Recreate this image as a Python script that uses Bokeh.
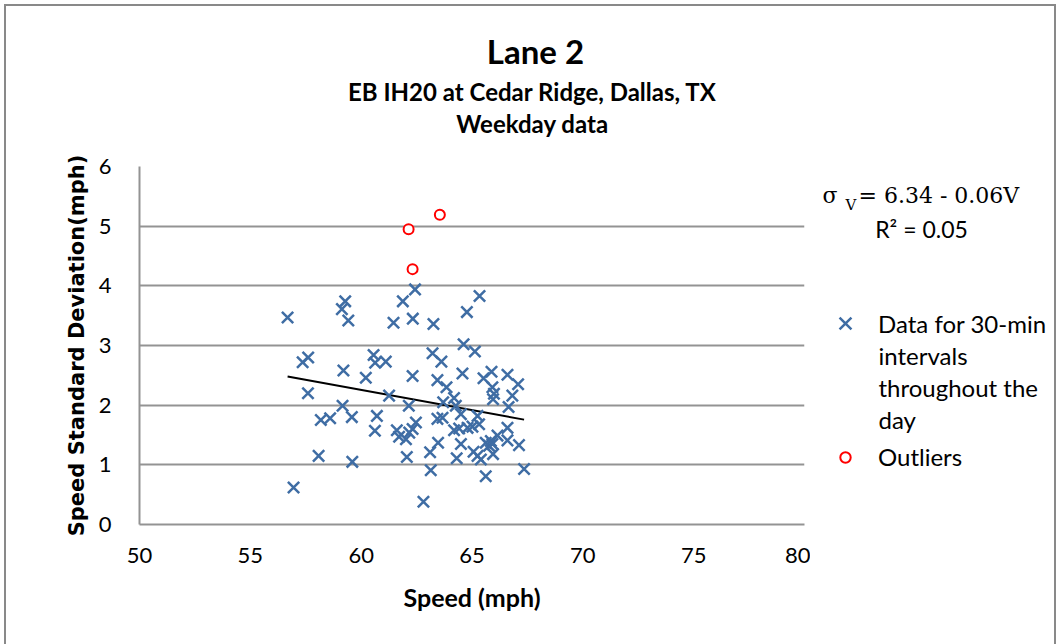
import numpy as np
from bokeh.plotting import figure
from bokeh.layouts import column, row
from bokeh.models import Range1d, FixedTicker, Label, Legend, LegendItem
from bokeh.embed import file_html
from bokeh.resources import INLINE

# 30-minute weekday intervals: mean speed (mph) and speed standard deviation (mph)
speed = [56.68, 56.95, 57.36, 57.61, 57.60, 58.08, 58.18, 58.60, 59.13, 59.28,
         59.42, 59.20, 59.16, 59.58, 59.60, 60.21, 60.56, 60.63, 60.71, 60.62,
         61.11, 61.26, 61.46, 61.61, 61.71, 61.88, 62.02, 62.06, 62.15, 62.17,
         62.32, 62.47, 62.33, 62.43, 62.32, 62.81, 63.11, 63.14, 63.26, 63.22,
         63.62, 63.44, 63.85, 63.70, 64.19, 64.27, 63.44, 63.67, 63.47, 64.19,
         64.42, 64.50, 64.50, 64.31, 64.57, 64.62, 64.77, 64.80, 65.13, 65.34,
         65.52, 65.25, 65.32, 65.02, 65.07, 65.25, 65.40, 65.62, 65.62, 65.77,
         65.85, 65.92, 65.95, 66.15, 65.88, 65.92, 65.99, 66.60, 66.60, 66.60,
         66.82, 67.08, 67.12, 67.35, 66.65, 65.95]
speed_sd = [3.47, 0.62, 2.72, 2.80, 2.20, 1.15, 1.75, 1.78, 3.61, 3.74,
            3.42, 2.58, 1.99, 1.80, 1.05, 2.46, 2.84, 2.71, 1.82, 1.57,
            2.73, 2.16, 3.38, 1.58, 1.47, 3.74, 1.43, 1.13, 1.99, 1.54,
            1.60, 1.71, 3.45, 3.94, 2.49, 0.38, 1.21, 0.91, 3.36, 2.87,
            2.73, 2.42, 2.30, 2.05, 2.12, 1.99, 1.77, 1.79, 1.37, 1.58,
            1.61, 1.85, 1.35, 1.11, 2.53, 3.02, 3.56, 1.62, 2.90, 3.83,
            2.45, 1.82, 1.68, 1.64, 1.22, 1.15, 1.09, 0.81, 1.37, 1.32,
            1.40, 1.35, 1.18, 1.49, 2.56, 2.30, 2.19, 2.51, 1.62, 1.41,
            2.16, 2.35, 1.33, 0.93, 1.97, 2.10]

# Intervals flagged as outliers (left out of the trend line)
outlier_speed = [63.55, 62.14, 62.32]
outlier_sd = [5.19, 4.95, 4.28]

x_ticks = [50, 55, 60, 65, 70, 75, 80]
y_ticks = [0, 1, 2, 3, 4, 5, 6]

title_text = "Lane 2"
subtitle_lines = ["EB IH20 at Cedar Ridge, Dallas, TX", "Weekday data"]
equation_text = "= 6.34 - 0.06V"
r2_text = "R\u00b2 = 0.05"
data_label_lines = ["Data for 30-min", "intervals", "throughout the", "day"]
outlier_label = "Outliers"

# ---- page geometry (pixels) ----
W, H = 1060, 644
HEAD_H = 140                  # band holding the titles
PLOT_W = 810                  # width of the chart panel
FL, FR, FT, FB = 139, 804, 166, 524   # plot frame edges on the page
KEY_X, KEY_TEXT_X = 845, 878          # legend glyph centre / legend text start
LINE_H = 32                           # legend text line spacing

SANS = "Lato"
INK = "black"
GRID = "#939393"
BLUE = "#3f6da4"
RED = "#ff0000"
EDGE = "#898989"


def blank(width, height, x0, x1, y0, y1, top=0, bottom=0):
    """A figure without axes whose data units are page pixels."""
    f = figure(width=width, height=height, x_range=Range1d(x0, x1), y_range=Range1d(y0, y1),
               x_axis_type=None, y_axis_type=None, output_backend="svg",
               toolbar_location=None, min_border=0,
               min_border_top=top, min_border_bottom=bottom)
    f.grid.visible = False
    f.outline_line_color = None
    f.background_fill_alpha = 0
    f.border_fill_alpha = 0
    return f


def text(fig, x, y, s, size, font=SANS, bold=False, align="center"):
    fig.add_layout(Label(x=x, y=y, text=s, text_font=font, text_font_size=size,
                         text_font_style="bold" if bold else "normal",
                         text_color=INK, text_align=align, text_baseline="middle"))


# ---- titles ----
head = blank(W, HEAD_H, 0, W, HEAD_H, 0)
text(head, 535, 50, title_text, "33px", bold=True)
for py, line in zip((91, 123), subtitle_lines):
    text(head, 532, py, line, "24px", bold=True)

# ---- scatter chart ----
p = figure(width=PLOT_W, height=H - HEAD_H, x_range=Range1d(50, 80), y_range=Range1d(0, 6),
           output_backend="svg", toolbar_location=None,
           min_border_left=FL, min_border_right=PLOT_W - FR,
           min_border_top=FT - HEAD_H, min_border_bottom=H - FB)
p.outline_line_color = None
p.background_fill_color = "white"
p.border_fill_alpha = 0

p.xgrid.visible = False
p.ygrid.ticker = FixedTicker(ticks=y_ticks)
p.ygrid.grid_line_color = GRID
p.ygrid.grid_line_width = 2

for ax in (p.xaxis[0], p.yaxis[0]):
    ax.axis_line_color = GRID
    ax.axis_line_width = 2
    ax.major_tick_line_color = None
    ax.minor_tick_line_color = None
    ax.major_label_text_font = SANS
    ax.major_label_text_font_size = "22px"
    ax.major_label_text_color = INK
    ax.axis_label_text_font_style = "bold"
    ax.axis_label_text_color = INK

p.xaxis.ticker = FixedTicker(ticks=x_ticks)
p.yaxis.ticker = FixedTicker(ticks=y_ticks)
p.xaxis.major_label_standoff = 17
p.yaxis.major_label_standoff = 22

p.xaxis.axis_label = "Speed (mph)"
p.xaxis.axis_label_text_font = SANS
p.xaxis.axis_label_text_font_size = "25px"
p.xaxis.axis_label_standoff = 16

p.yaxis.axis_label = "Speed Standard Deviation(mph)"
p.yaxis.axis_label_text_font = "DejaVu Sans"
p.yaxis.axis_label_text_font_size = "21px"
p.yaxis.axis_label_standoff = 7

# trend line fitted to the regular intervals
b1, b0 = np.polyfit(speed, speed_sd, 1)
tx = np.array([min(speed), max(speed)])
p.line(tx, b0 + b1 * tx, line_color="black", line_width=2)

MARK = dict(marker="x", size=16, line_color=BLUE, line_width=2.5)
RING = dict(marker="circle", size=10, fill_color="white", line_color=RED, line_width=2)
p.scatter(speed, speed_sd, **MARK)
p.scatter(outlier_speed, outlier_sd, **RING)

# ---- right-hand side: regression note and legend ----
# frame shares the chart's vertical extent (rows align frames); data units = page pixels
side = blank(W - PLOT_W, H - HEAD_H, PLOT_W, W, FB, FT, top=FT - HEAD_H, bottom=H - FB)
text(side, 822, 195, "\u03c3", "22px", font="DejaVu Serif", align="left")
text(side, 845, 204, "V", "15px", font="DejaVu Serif", align="left")
text(side, 858, 195, equation_text, "22px", font="DejaVu Serif", align="left")
text(side, 921, 228, r2_text, "23px")

# legend keys share the chart's styles; they hold no visible points
key_data = side.scatter([np.nan], [np.nan], **MARK)
key_out = side.scatter([np.nan], [np.nan], **RING)


def make_legend(label, renderer, center_y, glyph):
    # legend markers are drawn at 0.4 x the glyph box, so the box sets the key size
    lg = Legend(items=[LegendItem(label=label, renderers=[renderer])],
                location=(KEY_X - glyph / 2 - PLOT_W, FB - (center_y + glyph / 2)))
    lg.border_line_color = None
    lg.background_fill_alpha = 0
    lg.padding = 0
    lg.margin = 0
    lg.spacing = 0
    lg.glyph_width = glyph
    lg.glyph_height = glyph
    lg.label_standoff = int(round(KEY_TEXT_X - (KEY_X + glyph / 2)))
    lg.label_text_font = SANS
    lg.label_text_font_size = "24px"
    lg.label_text_color = INK
    lg.label_height = glyph
    return lg


side.add_layout(make_legend(data_label_lines[0], key_data, 323, 42))
for i, line in enumerate(data_label_lines[1:], start=1):
    text(side, KEY_TEXT_X, 323 + i * LINE_H, line, "24px", align="left")
side.add_layout(make_legend(outlier_label, key_out, 458, 26))

page = column(head, row(p, side, spacing=0), spacing=0)
page.styles = {
    "background": (f"linear-gradient({EDGE}, {EDGE}) 4px 4px / 2px 700px no-repeat, "
                   f"linear-gradient({EDGE}, {EDGE}) 4px 4px / 1052px 2px no-repeat, "
                   f"linear-gradient({EDGE}, {EDGE}) 1054px 4px / 2px 700px no-repeat, #ffffff")
}

open("out.html", "w").write(file_html(page, INLINE))
